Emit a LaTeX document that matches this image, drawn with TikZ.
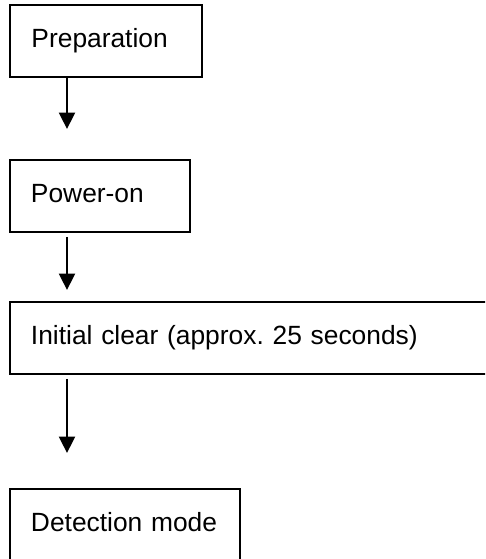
\documentclass[tikz,border=0pt]{standalone}
\usepackage{fontspec}
\setmainfont{Liberation Sans}
\usetikzlibrary{arrows.meta}
\begin{document}
\begin{tikzpicture}[x=0.02cm, y=-0.02cm, >={Triangle[length=0.33cm, width=0.32cm]},
	stage/.style={draw, line width=0.04cm, anchor=north west, minimum height=1.44cm,
		inner xsep=0.42cm, inner ysep=0pt, align=left, text height=0.72em, text depth=0pt,
		font=\fontsize{15}{18}\selectfont\frenchspacing},
	flow/.style={->, line width=0.045cm}]
	% frame
	\useasboundingbox (0,0) rectangle (485,559);
	\clip (0,0) rectangle (485,559);
	% boxes
	\node[stage, text width=2.99cm] (prep) at (9.5,4) {Preparation};
	\node[stage, text width=2.76cm] (power) at (9,159) {Power-on};
	\node[stage, text width=9.16cm] (clear) at (9,301) {Initial clear (approx. 25 seconds)};
	% last box runs past the lower edge
	\node[stage, text width=3.76cm, minimum height=1.6cm, text depth=0.16cm] (detect) at (9,488) {Detection mode};
	% arrow tips
	\coordinate (t1) at (67,129);
	\coordinate (t2) at (67,290);
	\coordinate (t3) at (67,453);
	% arrows
	\draw[flow] (prep.south -| t1) -- (t1);
	\draw[flow] ([yshift=-0.08cm]power.south -| t2) -- (t2);
	\draw[flow] ([yshift=-0.08cm]clear.south -| t3) -- (t3);
\end{tikzpicture}
\end{document}
